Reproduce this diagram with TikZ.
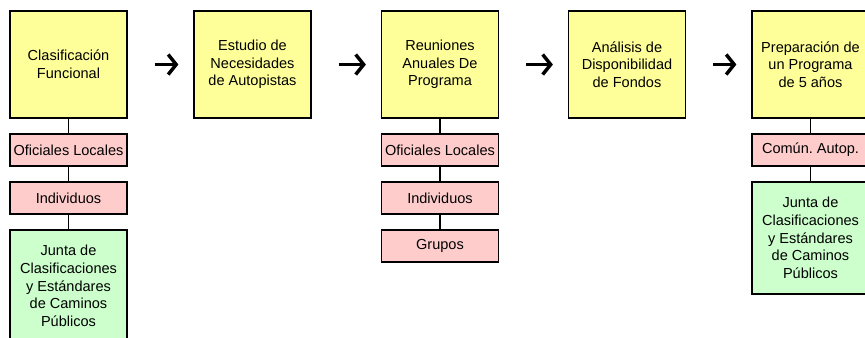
\documentclass[tikz,border=0pt]{standalone}
\usepackage{fontspec}
\setmainfont{Liberation Sans}
\usetikzlibrary{arrows.meta}
\definecolor{amarillo}{HTML}{FFFF99}
\definecolor{rosa}{HTML}{FFCCCC}
\definecolor{verde}{HTML}{CCFFCC}
\tikzset{
	paso/.style = {draw, line width=1.4pt, fill=amarillo, minimum width=87.75pt, minimum height=80.25pt, align=center, inner sep=1pt},
	actor/.style = {draw, line width=1.4pt, fill=rosa, minimum width=87.75pt, minimum height=24pt, align=center, inner sep=1pt},
	junta/.style = {draw, line width=1.4pt, fill=verde, minimum width=87.75pt, minimum height=84pt, align=center, inner sep=1pt},
	enlace/.style = {line width=1.4pt},
	flecha/.style = {line width=2.6pt, -{Straight Barb[length=6pt, width=15pt]}, shorten <=20pt, shorten >=11pt}
}
\begin{document}
\begin{tikzpicture}[x = 0.75pt, y = -0.75pt, font=\fontsize{10.9}{13.3}\selectfont]
	\clip (0,0) rectangle (865,337);
	\fill[white] (0,0) rectangle (865,337);

	% pasos del proceso
	\node[paso] (cf) at (68.5, 64.5) {Clasificación\\Funcional};
	\node[paso] (en) at (252.5, 64.5) {Estudio de\\Necesidades\\de Autopistas};
	\node[paso] (ra) at (440, 64.5) {Reuniones\\Anuales De\\Programa};
	\node[paso] (ad) at (627, 64.5) {Análisis de\\Disponibilidad\\de Fondos};
	\node[paso] (pp) at (810.5, 64.5) {Preparación de\\un Programa\\de 5 años};

	\draw[flecha] (cf) -- (en);
	\draw[flecha] (en) -- (ra);
	\draw[flecha] (ra) -- (ad);
	\draw[flecha] (ad) -- (pp);

	% participantes 1
	\node[actor] (ol1) at (68.5, 150) {Oficiales Locales};
	\node[actor] (in1) at (68.5, 198) {Individuos};
	\node[junta] (jc1) at (68.5, 286) {Junta de\\Clasificaciones\\y Estándares\\de Caminos\\Públicos};
	\draw[enlace] (cf) -- (ol1);
	\draw[enlace] (ol1) -- (in1);
	\draw[enlace] (in1) -- (jc1);

	% participantes 3
	\node[actor] (ol3) at (440, 150) {Oficiales Locales};
	\node[actor] (in3) at (440, 198) {Individuos};
	\node[actor] (gr3) at (440, 246) {Grupos};
	\draw[enlace] (ra) -- (ol3);
	\draw[enlace] (ol3) -- (in3);
	\draw[enlace] (in3) -- (gr3);

	% participantes 5
	\node[actor] (ca5) at (810.5, 150) {Común.\ Autop.};
	\node[junta] (jc5) at (810.5, 238) {Junta de\\Clasificaciones\\y Estándares\\de Caminos\\Públicos};
	\draw[enlace] (pp) -- (ca5);
	\draw[enlace] (ca5) -- (jc5);
\end{tikzpicture}
\end{document}
